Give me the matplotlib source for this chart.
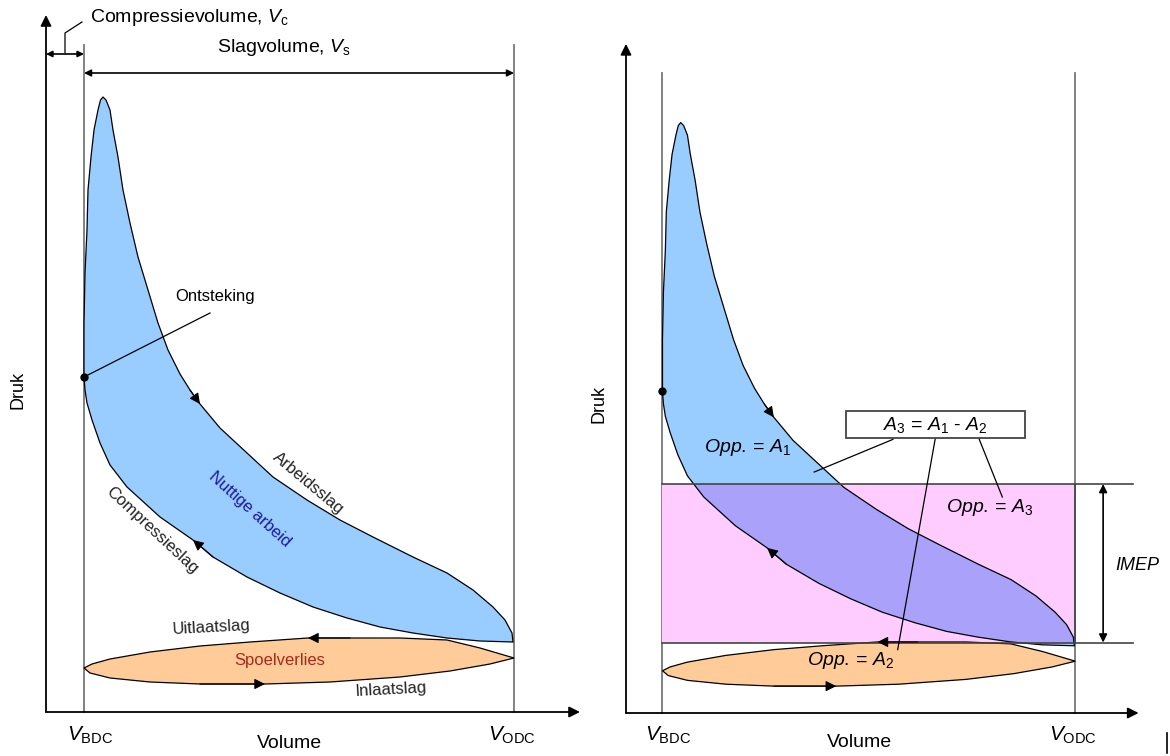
import matplotlib.pyplot as plt
from matplotlib.patches import FancyArrowPatch, Polygon, Rectangle

plt.rcParams['font.family'] = ['Liberation Sans', 'DejaVu Sans']
plt.rcParams['mathtext.fontset'] = 'custom'
plt.rcParams['mathtext.rm'] = 'Liberation Sans'
plt.rcParams['mathtext.it'] = 'Liberation Sans:italic'

# volume / pressure in arbitrary units (left panel pixel scale)
V_BDC = 38
V_ODC = 468
V_MAX = 534
P_MAX = 697

# combustion: ignition -> peak
comb_V = [38, 38, 39, 41, 42, 45, 48, 52, 54.5, 57]
comb_p = [335, 389, 439, 482, 522, 555, 582, 602, 612, 615]
# expansion (arbeidsslag): peak -> ODC
exp_V = [57, 60, 64, 67, 72, 77, 84, 92, 102, 112, 122, 134, 144, 154, 174,
         201, 227, 261, 294, 327, 367, 401, 427, 447, 459, 466, 467]
exp_p = [615, 612, 602, 582, 555, 522, 489, 455, 422, 389, 362, 338, 322,
         308, 284, 259, 235, 212, 192, 175, 155, 139, 122, 105, 92, 79, 70]
# compression (compressieslag): ODC -> ignition
comp_V = [467, 434, 401, 367, 334, 301, 267, 234, 201, 167, 147, 114, 81, 64,
          54, 46, 41, 39, 38]
comp_p = [70, 71, 74, 79, 85, 94, 105, 119, 135, 155, 172, 195, 225, 247,
          269, 292, 309, 322, 335]
# gas exchange loop: exhaust (top, right -> left), intake (bottom, left -> right)
exh_V = [468, 434, 401, 354, 304, 262, 204, 154, 104, 64, 46, 38]
exh_p = [54, 64, 72, 74, 74, 74, 70, 66, 60, 53, 48, 44]
int_V = [38, 44, 64, 104, 154, 219, 284, 354, 404, 444, 468]
int_p = [44, 39, 34, 30, 28, 28, 30, 35, 41, 48, 54]

# IMEP rectangle (right panel)
IMEP_TOP = 238.5
IMEP_BOT = 73.4

BLUE = '#99ccff'
ORANGE = '#ffcc99'
PINK = '#ffccff'
OVERLAP = '#aaa2fa'
GREY = '#777777'


def arrow(ax, x0, y0, x1, y1, style='-|>', ms=12, lw=1.2, color='black'):
    a = FancyArrowPatch((x0, y0), (x1, y1), arrowstyle=style, mutation_scale=ms,
                        lw=lw, color=color, shrinkA=0, shrinkB=0, zorder=6)
    ax.add_patch(a)


def head(ax, xs, ys, i):
    # small arrow head on a curve at point i, direction i-1 -> i
    arrow(ax, xs[i - 1], ys[i - 1], xs[i], ys[i], style='-|>', ms=16, lw=0.8)


def draw_cycle(ax):
    loop_V = comb_V + exp_V[1:] + comp_V[1:]
    loop_p = comb_p + exp_p[1:] + comp_p[1:]
    gas_V = exh_V + int_V[1:]
    gas_p = exh_p + int_p[1:]
    ax.add_patch(Polygon(list(zip(gas_V, gas_p)), closed=True, fc=ORANGE,
                         ec='black', lw=0.9, zorder=2))
    ax.add_patch(Polygon(list(zip(loop_V, loop_p)), closed=True, fc=BLUE,
                         ec='none', zorder=2))
    ax.plot(loop_V, loop_p, color='black', lw=0.9, zorder=4)
    # direction arrows
    head(ax, exp_V, exp_p, 13)
    head(ax, comp_V, comp_p, 10)
    head(ax, exh_V, exh_p, 5)
    head(ax, int_V, int_p, 5)
    # ignition dot
    ax.plot([comb_V[0]], [comb_p[0]], 'o', color='black', ms=5, zorder=7)
    # axes and BDC/ODC lines
    arrow(ax, 0, 0, 0, P_MAX, ms=16, lw=1.3)
    arrow(ax, 0, 0, V_MAX, 0, ms=16, lw=1.3)
    for v in (V_BDC, V_ODC):
        ax.plot([v, v], [0, 667], color=GREY, lw=1.3, zorder=1)
    ax.text(-28, 322, 'Druk', rotation=90, ha='center', va='center',
            fontsize=13)
    ax.text(243, -31, 'Volume', ha='center', va='center', fontsize=14)
    ax.text(44, -23, r'$V_{\mathrm{BDC}}$', ha='center', va='center',
            fontsize=15)
    ax.text(466, -23, r'$V_{\mathrm{ODC}}$', ha='center', va='center',
            fontsize=15)


fig = plt.figure(figsize=(11.7, 7.56), dpi=100)
ax1 = fig.add_axes([0, 0, 0.5, 1])
ax2 = fig.add_axes([0.5, 0, 0.5, 1])
ax1.set_xlim(-46, 539)
ax1.set_ylim(-44, 712)
ax2.set_xlim(-41 / 0.96, 544 / 0.96)
ax2.set_ylim(-43 / 0.96, 713 / 0.96)
for ax in (ax1, ax2):
    ax.axis('off')
    draw_cycle(ax)

# left panel annotations
arrow(ax1, 0, 658, V_BDC, 658, style='<|-|>', ms=9, lw=1.2)
ax1.plot([19, 19, 36], [659, 679, 690], color='black', lw=0.9)
ax1.text(44, 694, r'Compressievolume, $V_{\mathrm{c}}$', ha='left',
         va='center', fontsize=14)
arrow(ax1, V_BDC, 639, V_ODC, 639, style='<|-|>', ms=10, lw=1.2)
ax1.text(238, 664, r'Slagvolume, $V_{\mathrm{s}}$', ha='center', va='center',
         fontsize=14)
ax1.plot([comb_V[0], 164], [comb_p[0], 399], color='black', lw=0.9, zorder=5)
ax1.text(169, 415, 'Ontsteking', ha='center', va='center', fontsize=12)
ax1.text(106, 182, 'Compressieslag', rotation=-43, rotation_mode='anchor',
         ha='center', va='center', fontsize=12, color='#222222')
ax1.text(204, 203, 'Nuttige arbeid', rotation=-42, rotation_mode='anchor',
         ha='center', va='center', fontsize=12, color='#1a1aa0')
ax1.text(262, 229, 'Arbeidsslag', rotation=-40, rotation_mode='anchor',
         ha='center', va='center', fontsize=12, color='#222222')
ax1.text(165, 85, 'Uitlaatslag', rotation=3, rotation_mode='anchor',
         ha='center', va='center', fontsize=12, color='#222222')
ax1.text(234, 52, 'Spoelverlies', ha='center', va='center', fontsize=12,
         color='#a52a1a')
ax1.text(345, 22, 'Inlaatslag', rotation=3, rotation_mode='anchor',
         ha='center', va='center', fontsize=12, color='#222222')

# right panel: IMEP rectangle and overlap
rect = Rectangle((V_BDC, IMEP_BOT), V_ODC - V_BDC, IMEP_TOP - IMEP_BOT,
                 fc=PINK, ec='none', zorder=1.5)
ax2.add_patch(rect)
loop_V = comb_V + exp_V[1:] + comp_V[1:]
loop_p = comb_p + exp_p[1:] + comp_p[1:]
ov = Polygon(list(zip(loop_V, loop_p)), closed=True, fc=OVERLAP, ec='none',
             zorder=3)
ax2.add_patch(ov)
ov.set_clip_path(rect)
for pl in (IMEP_TOP, IMEP_BOT):
    ax2.plot([V_BDC, 528], [pl, pl], color='#444444', lw=1.2, zorder=5)
ax2.plot([V_ODC, V_ODC], [IMEP_BOT, IMEP_TOP], color='#444444', lw=1.3,
         zorder=5)
arrow(ax2, 497, IMEP_BOT, 497, IMEP_TOP, style='<|-|>', ms=12, lw=1.2)
ax2.text(533, 154, 'IMEP', style='italic', ha='center', va='center',
         fontsize=13)
ax2.add_patch(Rectangle((229, 286), 187, 29, fc='white', ec='#444444',
                        lw=1.3, zorder=6))
ax2.text(322, 300.5, r'$A_3$ = $A_1$ - $A_2$', ha='center', va='center',
         fontsize=14, zorder=7)
ax2.plot([278, 196], [285, 251], color='black', lw=0.9, zorder=6)
ax2.plot([322, 283], [285, 66], color='black', lw=0.9, zorder=6)
ax2.plot([368, 392], [285, 225], color='black', lw=0.9, zorder=6)
ax2.text(126, 277, r'$Opp.\,$= $A_1$', ha='center', va='center', fontsize=14,
         zorder=7)
ax2.text(379, 214, r'$Opp.\,$= $A_3$', ha='center', va='center', fontsize=14,
         zorder=7)
ax2.text(234, 55, r'$Opp.\,$= $A_2$', ha='center', va='center', fontsize=14,
         zorder=7)
ax2.plot([563.5, 563.5], [-21, -42], color='black', lw=1.2)

fig.savefig('out.png', dpi=100)
